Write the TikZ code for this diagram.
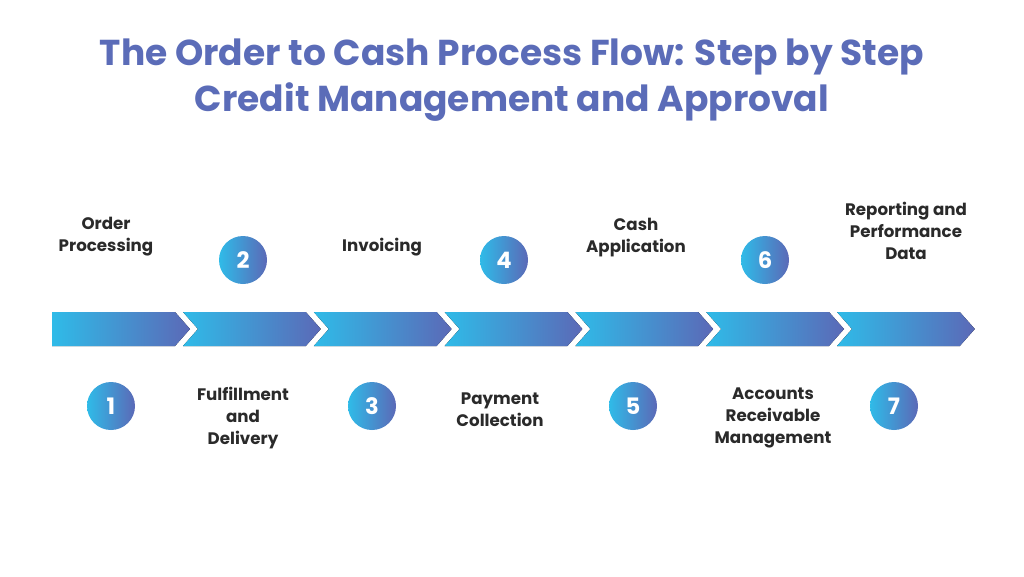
\documentclass[tikz,border=0pt]{standalone}
\usepackage{fontspec}
\setmainfont{Poppins}
\begin{document}
\definecolor{cy}{HTML}{2FBBE8}
\definecolor{vi}{HTML}{5B69B7}
\definecolor{tt}{HTML}{5B6CB8}
\definecolor{tx}{HTML}{2A2A2A}
\begin{tikzpicture}[x=0.75pt,y=-0.75pt,
  seg/.style={left color=cy,right color=vi,draw=none},
  num/.style={circle,minimum size=36pt,inner sep=0pt,left color=cy,right color=vi,text=white,font=\bfseries\fontsize{17}{17}\selectfont},
  lab/.style={align=center,text=tx,font=\bfseries\fontsize{12.5}{16.5}\selectfont}]
\useasboundingbox (0,0) rectangle (1024,576);
\node[text=tt,align=center,font=\bfseries\fontsize{27}{35}\selectfont] (title) at (512,80) {The Order to Cash Process Flow: Step by Step\\Credit Management and Approval};
\fill[seg] (52,312) -- (175,312) -- (190,329) -- (175,346) -- (52,346) -- cycle;
\foreach \k in {1,...,6}{
  \pgfmathsetmacro{\b}{175+130.8*\k}
  \pgfmathsetmacro{\a}{\b-130.8+8}
  \fill[seg] (\a,312) -- (\b,312) -- (\b+15,329) -- (\b,346) -- (\a,346) -- (\a+15,329) -- cycle;
}
\node[num] (n1) at (111,406) {1};
\node[num] (n2) at (243,260) {2};
\node[num] (n3) at (372,406) {3};
\node[num] (n4) at (504,260) {4};
\node[num] (n5) at (633,406) {5};
\node[num] (n6) at (765,260) {6};
\node[num] (n7) at (894,406) {7};
\node[lab] (l1) at (106,237) {Order\\Processing};
\node[lab] (l2) at (243,418) {Fulfillment\\and\\Delivery};
\node[lab] (l3) at (382,247) {Invoicing};
\node[lab] (l4) at (500,410) {Payment\\Collection};
\node[lab] (l5) at (636,238) {Cash\\Application};
\node[lab] (l6) at (773,418) {Accounts\\Receivable\\Management};
\node[lab] (l7) at (906,231) {Reporting and\\Performance\\Data};
\end{tikzpicture}
\end{document}
